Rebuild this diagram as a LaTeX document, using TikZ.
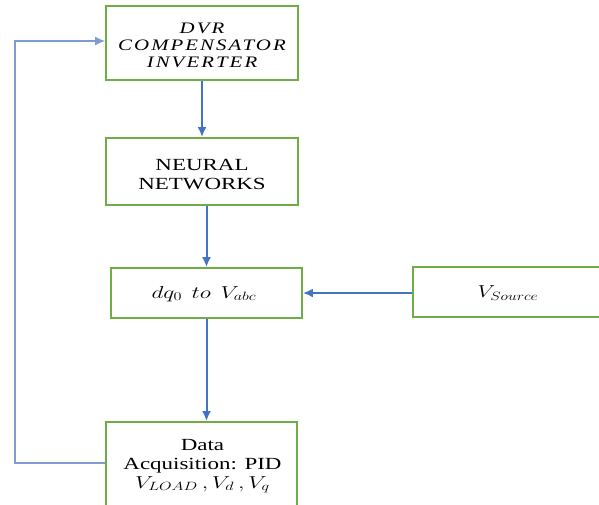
\documentclass[tikz,border=0pt]{standalone}
\usepackage{fontspec}
\usepackage{graphicx}
\setmainfont{Liberation Serif}
\usetikzlibrary{arrows.meta}
\definecolor{boxgreen}{HTML}{70AD47}
\definecolor{lineblue}{HTML}{4472C4}
\definecolor{fbblue}{HTML}{7F9CCF}
\newcommand{\widetext}[2][1.35]{\scalebox{#1}[1]{#2}}
\newcommand{\dvrline}[1]{\widetext[1.3]{\itshape\addfontfeatures{LetterSpace=10}#1}}
\tikzset{
  blk/.style={draw=boxgreen, line width=1.8pt, fill=white, inner sep=0pt},
  txt/.style={align=center, inner sep=0pt, font=\fontsize{17}{19}\selectfont},
  conn/.style={draw=lineblue, line width=2pt, -{Latex[length=10pt,width=9pt]}},
  fb/.style={draw=fbblue, line width=1.3pt, -{Latex[length=10pt,width=9pt]}, color=fbblue}
}
\begin{document}
\begin{tikzpicture}[x=1pt,y=-1pt]
\useasboundingbox (0,0) rectangle (599,504);
\clip (0,0) rectangle (599,504);
\node[blk, minimum width=192pt, minimum height=74pt] (dvr) at (202,43) {};
\node[blk, minimum width=192pt, minimum height=67pt] (nn) at (202,171.5) {};
\node[blk, minimum width=191pt, minimum height=50pt] (dq) at (206.5,293) {};
\node[blk, minimum width=196pt, minimum height=50pt] (vs) at (511,292) {};
\node[blk, minimum width=191pt, minimum height=92pt] (data) at (201.5,468) {};
\node[txt, font=\fontsize{16}{17}\selectfont] (dvrt) at (202,45.5)
  {\dvrline{DVR}\\\dvrline{COMPENSATOR}\\\dvrline{INVERTER}};
\node[txt] (nnt) at (202,174.5) {\widetext{NEURAL}\\\widetext{NETWORKS}};
\node[txt] (dqt) at (204,294) {\widetext{$dq_0\ \,to\ \,V_{abc}$}};
\node[txt] (vst) at (508,293) {\widetext[1.3]{$V_{Source}$}};
\node[txt] (datat) at (202.5,466)
  {\widetext{Data}\\\widetext{Acquisition: PID}\\\widetext{$V_{LOAD}\,,V_d\,,V_q$}};
\coordinate (fb1) at (15,463);
\coordinate (fb2) at (15,41);
\draw[conn] (dvr.south) -- (nn.north);
\draw[conn] (nn.south -| dq.north) -- (dq.north);
\draw[conn] (dq.south) -- (dq.south |- data.north);
\draw[conn] (vs.west |- dq.east) -- (dq.east);
\draw[fb] (data.west |- fb1) -- (fb1) -- (fb2) -- (dvr.west |- fb2);
\end{tikzpicture}
\end{document}
